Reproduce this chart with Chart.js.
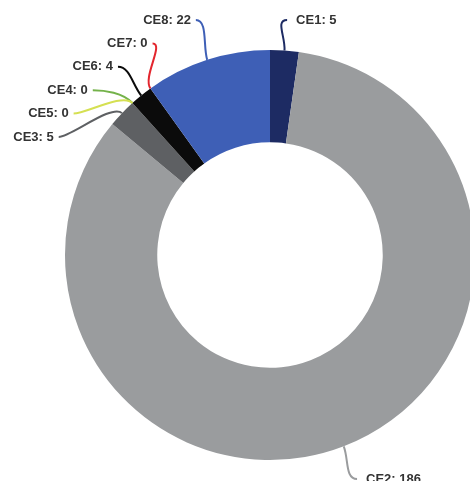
<!DOCTYPE html>
<html>
<head>
<meta charset="utf-8">
<script src="https://cdn.jsdelivr.net/npm/chart.js@4.4.1/dist/chart.umd.min.js"></script>
<style>
  html, body { margin: 0; padding: 0; background: #fff; overflow: hidden; }
  #wrap { position: relative; width: 480px; height: 481px; }
</style>
</head>
<body>
<div id="wrap"><canvas id="ceChart"></canvas></div>
<script>
// CE counts per category
const categories = ["CE1", "CE2", "CE3", "CE4", "CE5", "CE6", "CE7", "CE8"];
const counts = [5, 186, 5, 0, 0, 4, 0, 22];
const sliceColors = ["#1d2b63", "#9a9c9e", "#5e6063", "#74b24a", "#d5e052", "#0b0b0b", "#e3262e", "#3e5fb6"];

// Stack labels of one side so they don't overlap: overlapping labels are merged
// into groups centred on their natural positions, kept inside [minY, maxY]
function spreadLabels(list, gap, minY, maxY) {
  list.sort((a, b) => a.idealY - b.idealY || a.i - b.i);
  const groups = list.map(it => ({ items: [it], sum: it.idealY }));
  const place = g => {
    const span = (g.items.length - 1) * gap;
    let y0 = g.sum / g.items.length - span / 2;
    y0 = Math.min(Math.max(y0, minY), maxY - span);
    g.top = y0;
    g.bottom = y0 + span;
  };
  groups.forEach(place);
  let merged = true;
  while (merged) {
    merged = false;
    for (let k = 0; k < groups.length - 1; k++) {
      if (groups[k].bottom + gap > groups[k + 1].top) {
        const g = groups[k];
        g.items = g.items.concat(groups[k + 1].items);
        g.sum += groups[k + 1].sum;
        groups.splice(k + 1, 1);
        place(g);
        merged = true;
        break;
      }
    }
  }
  groups.forEach(g => g.items.forEach((it, j) => { it.y = g.top + j * gap; }));
}

// Outside labels joined to their slices by curved leader lines
const leaderLabels = {
  id: 'leaderLabels',
  afterDraw(chart, args, opts) {
    const ctx = chart.ctx;
    const meta = chart.getDatasetMeta(0);
    const items = meta.data.map((arc, i) => {
      const p = arc.getProps(['x', 'y', 'startAngle', 'endAngle', 'outerRadius'], true);
      const a = (p.startAngle + p.endAngle) / 2;
      const rl = p.outerRadius + opts.distance;
      return {
        i, a, cx: p.x, cy: p.y, R: p.outerRadius, rl,
        right: Math.cos(a) >= 0,
        idealX: p.x + rl * Math.cos(a),
        idealY: p.y + rl * Math.sin(a)
      };
    });

    spreadLabels(items.filter(it => it.right), opts.gap, opts.minY, opts.maxY);
    spreadLabels(items.filter(it => !it.right), opts.gap, opts.minY, opts.maxY);

    ctx.save();
    ctx.font = opts.font;
    ctx.textBaseline = 'middle';
    items.forEach(it => {
      // labels pushed away from their slot slide along the label circle
      let x = it.idealX;
      if (Math.abs(it.y - it.idealY) > opts.shiftTol) {
        const dy = it.y - it.cy;
        const dx = Math.sqrt(Math.max(it.rl * it.rl - dy * dy, 0));
        x = it.right ? it.cx + dx : it.cx - dx;
      }
      const ex = it.cx + it.R * Math.cos(it.a);
      const ey = it.cy + it.R * Math.sin(it.a);
      const c1x = it.cx + (it.R + 14) * Math.cos(it.a);
      const c1y = it.cy + (it.R + 14) * Math.sin(it.a);
      const c2x = x + (it.right ? -12 : 12);

      ctx.strokeStyle = sliceColors[it.i];
      ctx.lineWidth = 2;
      ctx.beginPath();
      ctx.moveTo(ex, ey);
      ctx.bezierCurveTo(c1x, c1y, c2x, it.y, x, it.y);
      ctx.stroke();

      ctx.fillStyle = '#333';
      ctx.textAlign = it.right ? 'left' : 'right';
      ctx.fillText(categories[it.i] + ': ' + counts[it.i], it.right ? x + 9 : x - 5, it.y);
    });
    ctx.restore();
  }
};

const ctx = document.getElementById('ceChart').getContext('2d');
new Chart(ctx, {
  type: 'doughnut',
  data: {
    labels: categories,
    datasets: [{
      data: counts,
      backgroundColor: sliceColors,
      borderWidth: 0,
      hoverOffset: 0
    }]
  },
  options: {
    responsive: true,
    maintainAspectRatio: false,
    animation: false,
    cutout: '55%',
    layout: { padding: { left: 65, right: 5, top: 50, bottom: 21 } },
    plugins: {
      legend: { display: false },
      tooltip: { enabled: false },
      leaderLabels: {
        distance: 37,
        gap: 23.4,
        minY: 20,
        maxY: 479,
        shiftTol: 10,
        font: 'bold 13px "Liberation Sans", Arial, sans-serif'
      }
    }
  },
  plugins: [leaderLabels]
});
</script>
</body>
</html>
